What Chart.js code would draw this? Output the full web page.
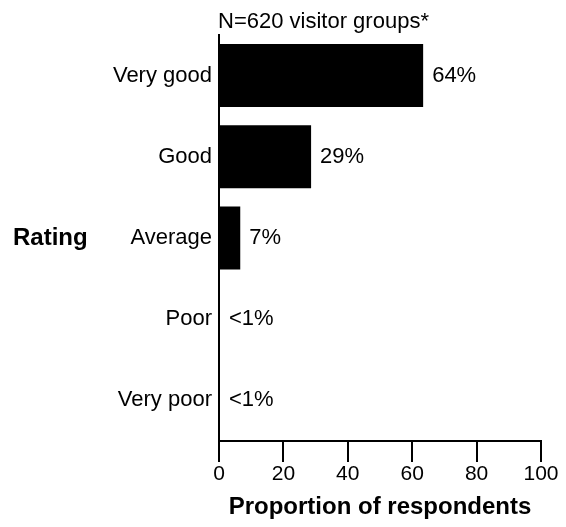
<!DOCTYPE html>
<html>
<head>
<meta charset="utf-8">
<script src="https://cdn.jsdelivr.net/npm/chart.js@4.4.1/dist/chart.umd.min.js"></script>
<style>
  html, body { margin: 0; padding: 0; background: #fff; }
  #wrap { width: 566px; height: 527px; }
</style>
</head>
<body>
<div id="wrap"><canvas id="ratingChart" width="566" height="527"></canvas></div>
<script>
// data
const categories = ['Very good', 'Good', 'Average', 'Poor', 'Very poor'];
const shares = [63.4, 28.6, 6.6, 0.3, 0.3];
const shareLabels = ['64%', '29%', '7%', '<1%', '<1%'];
const xTicks = [0, 20, 40, 60, 80, 100];

const chartTitle = 'N=620 visitor groups*';
const yTitle = 'Rating';
const xTitle = 'Proportion of respondents';

const FONT = '"Liberation Sans", Arial, sans-serif';

// title, side title and value labels drawn by hand
const extraText = {
    id: 'extraText',
    afterDatasetsDraw(chart) {
        const ctx = chart.ctx;
        const area = chart.chartArea;
        const meta = chart.getDatasetMeta(0);
        ctx.save();
        ctx.fillStyle = '#000';

        ctx.font = '22px ' + FONT;
        ctx.textAlign = 'left';
        ctx.textBaseline = 'alphabetic';
        ctx.fillText(chartTitle, area.left - 1, 28);

        ctx.textBaseline = 'middle';
        meta.data.forEach((bar, i) => {
            ctx.fillText(shareLabels[i], bar.x + 9, bar.y);
        });

        ctx.font = 'bold 24px ' + FONT;
        ctx.fillText(yTitle, 13, (area.top + area.bottom) / 2);
        ctx.restore();
    }
};

new Chart(document.getElementById('ratingChart'), {
    type: 'bar',
    data: {
        labels: categories,
        datasets: [{
            data: shares,
            backgroundColor: '#000',
            borderWidth: 0,
            barPercentage: 0.776,
            categoryPercentage: 1
        }]
    },
    options: {
        indexAxis: 'y',
        responsive: false,
        animation: false,
        layout: { padding: { top: 35, right: 25, left: 0, bottom: 0 } },
        plugins: {
            legend: { display: false },
            tooltip: { enabled: false },
            title: { display: false }
        },
        scales: {
            x: {
                min: 0,
                max: 100,
                afterBuildTicks(scale) {
                    scale.ticks = xTicks.map(v => ({ value: v }));
                },
                afterFit(scale) { scale.height = 86; },
                grid: {
                    drawOnChartArea: false,
                    drawTicks: true,
                    tickLength: 21,
                    color: '#000',
                    lineWidth: 2
                },
                border: { display: true, color: '#000', width: 2 },
                ticks: {
                    color: '#000',
                    padding: 0,
                    maxRotation: 0,
                    font: { family: FONT, size: 21 }
                },
                title: {
                    display: true,
                    text: xTitle,
                    color: '#000',
                    padding: { top: 0, bottom: 5 },
                    font: { family: FONT, size: 24, weight: 'bold' }
                }
            },
            y: {
                afterFit(scale) { scale.width = 219; },
                grid: { display: false, drawTicks: false },
                border: { display: true, color: '#000', width: 2 },
                ticks: {
                    color: '#000',
                    padding: 7,
                    font: { family: FONT, size: 22 }
                }
            }
        }
    },
    plugins: [extraText]
});
</script>
</body>
</html>
